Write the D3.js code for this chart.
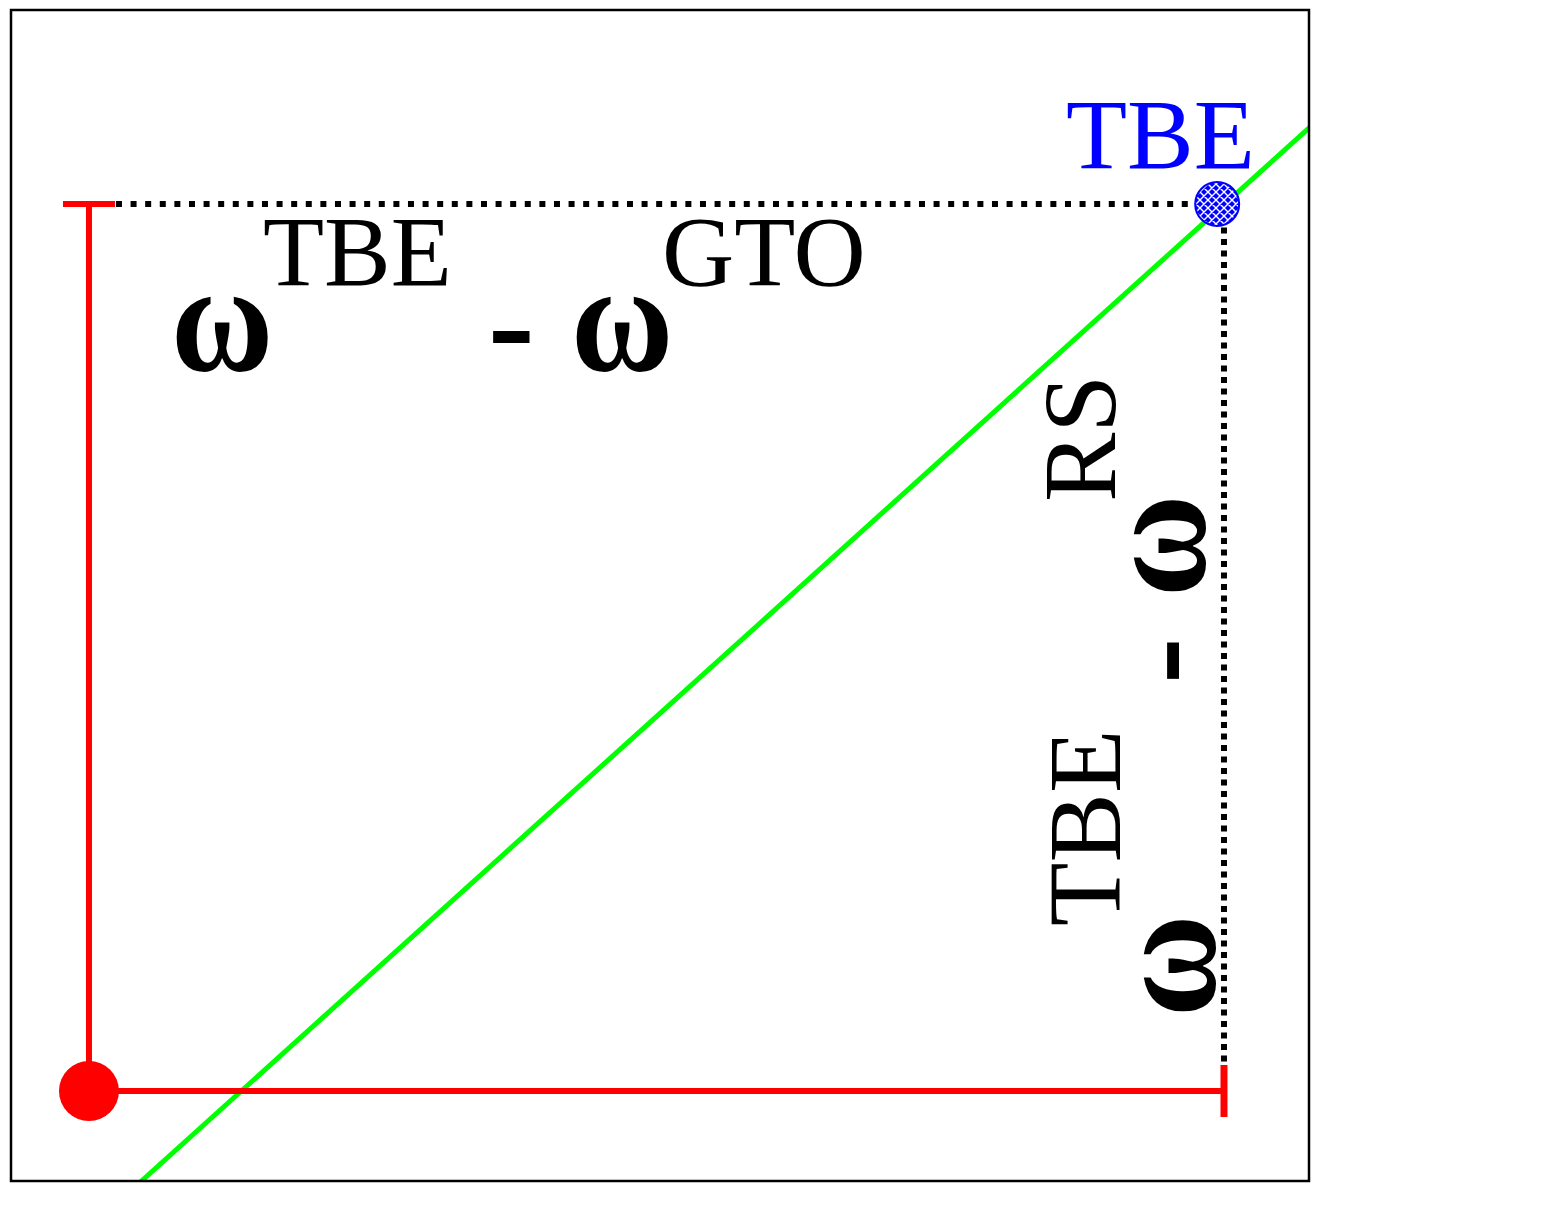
<!DOCTYPE html>
<html><head><meta charset="utf-8">
<script src="https://cdn.jsdelivr.net/npm/d3@7"></script>
<style>body{margin:0;background:#fff}svg{display:block}</style>
</head><body>
<script>
// ---- data (schematic coordinates) ----
const refPoint = [0, 0];                 // red reference point (GTO / RS)
const tbePoint = [0.994, 1.0];           // TBE point
const cornerTop = [1, 1];                // end of horizontal dotted guide
const cornerRight = [1, 0];              // end of vertical red guide
const greenLine = [[0.045, -0.103], [1.076, 1.087]];
const xDomain = [-0.0687, 1.0749];
const yDomain = [-0.1015, 1.2187];
const tbeLabel = "TBE";
const hLabel = ["ω", "TBE", "-", "ω", "GTO"];
const vLabel = ["ω", "TBE", "-", "ω", "RS"];
const isSup = [false, true, false, false, true];

const W = 1542, H = 1224;
const L = 11, R = 1309, T = 10, B = 1181;
const x = d3.scaleLinear().domain(xDomain).range([L, R]);
const y = d3.scaleLinear().domain(yDomain).range([B, T]);

const svg = d3.select("body").append("svg").attr("width", W).attr("height", H);
const defs = svg.append("defs");
defs.append("clipPath").attr("id", "clip").append("rect")
  .attr("x", L).attr("y", T).attr("width", R - L).attr("height", B - T);
const pat = defs.append("pattern").attr("id", "hatch").attr("patternUnits", "userSpaceOnUse")
  .attr("width", 8).attr("height", 8);
pat.append("rect").attr("width", 8).attr("height", 8).attr("fill", "#0000ff");
pat.append("path").attr("d", "M0,8L8,0M-2,2L2,-2M6,10L10,6M0,0L8,8M-2,6L2,10M6,-2L10,2")
  .attr("stroke", "#fff").attr("stroke-width", 1.4);

// green line
svg.append("path").attr("clip-path", "url(#clip)")
  .attr("d", d3.line().x(d => x(d[0])).y(d => y(d[1]))(greenLine))
  .attr("stroke", "#00ff00").attr("stroke-width", 5).attr("fill", "none");

// red guides
const red = "#ff0000";
svg.append("line").attr("x1", x(refPoint[0])).attr("y1", y(refPoint[1]))
  .attr("x2", x(refPoint[0])).attr("y2", y(cornerTop[1]))
  .attr("stroke", red).attr("stroke-width", 6);
svg.append("line").attr("x1", x(refPoint[0]) - 26).attr("y1", y(cornerTop[1]))
  .attr("x2", x(refPoint[0]) + 26).attr("y2", y(cornerTop[1]))
  .attr("stroke", red).attr("stroke-width", 6);
svg.append("line").attr("x1", x(refPoint[0])).attr("y1", y(refPoint[1]))
  .attr("x2", x(cornerRight[0])).attr("y2", y(cornerRight[1]))
  .attr("stroke", red).attr("stroke-width", 6);
svg.append("line").attr("x1", x(cornerRight[0])).attr("y1", y(cornerRight[1]) - 26)
  .attr("x2", x(cornerRight[0])).attr("y2", y(cornerRight[1]) + 26)
  .attr("stroke", red).attr("stroke-width", 7);

// dotted guides
svg.append("line").attr("x1", x(refPoint[0]) + 27).attr("y1", y(cornerTop[1]))
  .attr("x2", x(cornerTop[0])).attr("y2", y(cornerTop[1]))
  .attr("stroke", "#000").attr("stroke-width", 6).attr("stroke-dasharray", "6,8.6");
svg.append("line").attr("x1", x(cornerTop[0])).attr("y1", y(cornerTop[1]) + 12)
  .attr("x2", x(cornerRight[0])).attr("y2", y(cornerRight[1]) - 26)
  .attr("stroke", "#000").attr("stroke-width", 6).attr("stroke-dasharray", "6,5.5");

// points
svg.append("circle").attr("cx", x(refPoint[0])).attr("cy", y(refPoint[1])).attr("r", 30).attr("fill", red);
svg.append("circle").attr("cx", x(tbePoint[0])).attr("cy", y(tbePoint[1])).attr("r", 22)
  .attr("fill", "url(#hatch)").attr("stroke", "#0000ff").attr("stroke-width", 2);

// frame
svg.append("rect").attr("x", L).attr("y", T).attr("width", R - L).attr("height", B - T)
  .attr("fill", "none").attr("stroke", "#000").attr("stroke-width", 2.5);

// labels
const serif = "'Liberation Serif','Times New Roman',serif";
svg.append("text").attr("x", 1066).attr("y", 168).attr("font-family", serif)
  .attr("font-size", 100).attr("fill", "#0000ff").text(tbeLabel);

// horizontal label: omega^TBE - omega^GTO
const hx = [171, 263, 488, 571, 662];
const hg = svg.append("g").attr("font-family", serif).attr("fill", "#000");
hLabel.forEach((t, i) => {
  const sup = isSup[i];
  const by = sup ? 285 : 370;
  const sy = (t === "ω") ? 1.12 : 1;
  hg.append("text").attr("transform", `translate(${hx[i]},${by}) scale(1,${sy})`)
    .attr("font-size", sup ? 100 : 140).attr("font-weight", sup ? "normal" : "bold").text(t);
});

// vertical label: omega^TBE - omega^RS (rotated)
const vStart = [1017, 926, 684, 597, 502];
const vBase = [1215, 1120, 1206, 1205, 1115];
const vg = svg.append("g").attr("font-family", serif).attr("fill", "#000");
vLabel.forEach((t, i) => {
  const sup = isSup[i];
  const sy = (t === "ω") ? 1.08 : 1;
  vg.append("text").attr("transform", `translate(${vBase[i]},${vStart[i]}) rotate(-90) scale(1,${sy})`)
    .attr("font-size", sup ? 104 : 140).attr("font-weight", sup ? "normal" : "bold").text(t);
});
</script>
</body></html>
